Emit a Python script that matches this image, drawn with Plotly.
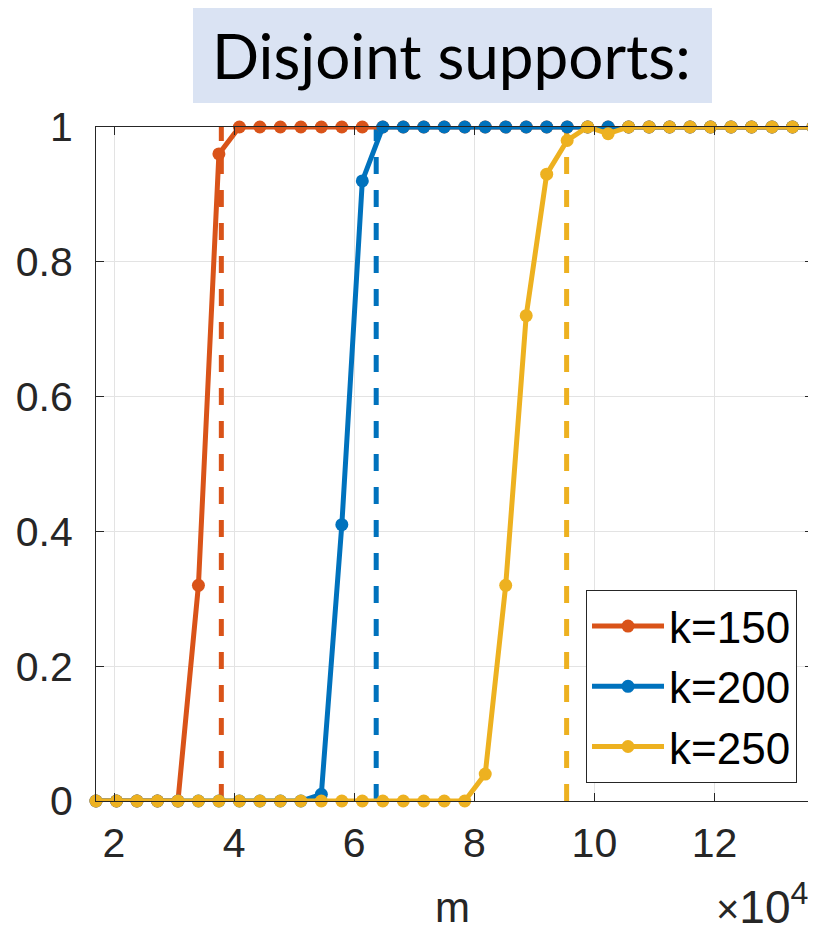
import plotly.graph_objects as go

# m values (actual units)
m_values = [17000, 20411, 23823, 27234, 30646, 34057, 37468, 40880, 44291, 47703,
            51114, 54525, 57937, 61348, 64760, 68171, 71582, 74994, 78405, 81817,
            85228, 88639, 92051, 95462, 98874, 102285, 105696, 109108, 112519, 115931,
            119342, 122753, 126165, 129576, 132988, 136399]

k150 = [0, 0, 0, 0, 0, 0.32, 0.96, 1, 1, 1,
        1, 1, 1, 1, 1, 1, 1, 1, 1, 1,
        1, 1, 1, 1, 1, 1, 1, 1, 1, 1,
        1, 1, 1, 1, 1, 1]
k200 = [0, 0, 0, 0, 0, 0, 0, 0, 0, 0,
        0, 0.01, 0.41, 0.92, 1, 1, 1, 1, 1, 1,
        1, 1, 1, 1, 1, 1, 1, 1, 1, 1,
        1, 1, 1, 1, 1, 1]
k250 = [0, 0, 0, 0, 0, 0, 0, 0, 0, 0,
        0, 0, 0, 0, 0, 0, 0, 0, 0, 0.04,
        0.32, 0.72, 0.93, 0.98, 1, 0.99, 1, 1, 1, 1,
        1, 1, 1, 1, 1, 1]

series_names = ["k=150", "k=200", "k=250"]
thresholds = [37870, 63660, 95370]
colors = ["#D95319", "#0072BD", "#EDB120"]

x_ticks = [2, 4, 6, 8, 10, 12]
y_ticks = [0, 0.2, 0.4, 0.6, 0.8, 1]
y_tick_text = ["0", "0.2", "0.4", "0.6", "0.8", "1"]

scale = 1e4
xs = [v / scale for v in m_values]

fig = go.Figure()

# dashed threshold lines
for thr, c in zip(thresholds, colors):
    fig.add_trace(go.Scatter(
        x=[thr / scale, thr / scale], y=[0, 1], mode="lines",
        line=dict(color=c, width=5, dash="17px,16px"),
        showlegend=False, hoverinfo="skip", cliponaxis=False))

for ys, name, c in zip([k150, k200, k250], series_names, colors):
    fig.add_trace(go.Scatter(
        x=xs, y=ys, mode="lines+markers", name=name,
        line=dict(color=c, width=5),
        marker=dict(color=c, size=13),
        cliponaxis=False))

axis_font = dict(family="Liberation Sans, Arial, sans-serif", size=41, color="#262626")

fig.update_xaxes(
    range=[m_values[0] / scale, m_values[-1] / scale],
    tickvals=x_ticks, ticktext=[str(t) for t in x_ticks],
    showgrid=True, gridcolor="#e3e3e3", gridwidth=1,
    showline=True, linecolor="#262626", linewidth=1, mirror="ticks",
    ticks="inside", ticklen=8, tickcolor="#262626",
    tickfont=axis_font, zeroline=False, ticklabelstandoff=6)
fig.update_yaxes(
    range=[0, 1],
    tickvals=y_ticks, ticktext=y_tick_text,
    showgrid=True, gridcolor="#e3e3e3", gridwidth=1,
    showline=True, linecolor="#262626", linewidth=1, mirror="ticks",
    ticks="inside", ticklen=8, tickcolor="#262626",
    tickfont=axis_font, zeroline=False, ticklabelstandoff=14)

# Title box
fig.add_shape(type="rect", xref="paper", yref="paper",
              x0=0.1353, x1=0.8591, y0=1.0356, y1=1.1766,
              fillcolor="#DAE3F3", line=dict(width=0), layer="above")
fig.add_annotation(text="Disjoint supports:", xref="paper", yref="paper",
                   x=0.4965, y=1.1068, showarrow=False,
                   font=dict(family="Lato, Carlito, sans-serif", size=62, color="black"),
                   xanchor="center", yanchor="middle")

# x label and multiplier
fig.add_annotation(text="m", xref="paper", yref="paper", x=0.4979, y=-0.158,
                   showarrow=False, xanchor="center", yanchor="middle",
                   font=dict(family="Liberation Sans, Arial, sans-serif", size=42, color="#262626"))
fig.add_annotation(text="<span style='font-size:40px'>×</span>10<sup>4</sup>",
                   xref="paper", yref="paper", x=0.9958, y=-0.153,
                   showarrow=False, xanchor="right", yanchor="middle",
                   font=dict(family="Liberation Sans, Arial, sans-serif", size=46, color="#262626"))

# page body has an 8px margin, so the figure is 8px smaller and offset
fig.update_layout(
    width=808, height=924,
    margin=dict(l=88, r=3, t=119, b=131),
    plot_bgcolor="white", paper_bgcolor="white",
    legend=dict(x=0.9777, y=0.0267, xanchor="right", yanchor="bottom",
                font=dict(family="Liberation Sans, Arial, sans-serif", size=44, color="black"),
                bgcolor="white", bordercolor="#262626", borderwidth=1,
                tracegroupgap=0, itemwidth=72),
    showlegend=True,
)

fig.write_html("out.html")
